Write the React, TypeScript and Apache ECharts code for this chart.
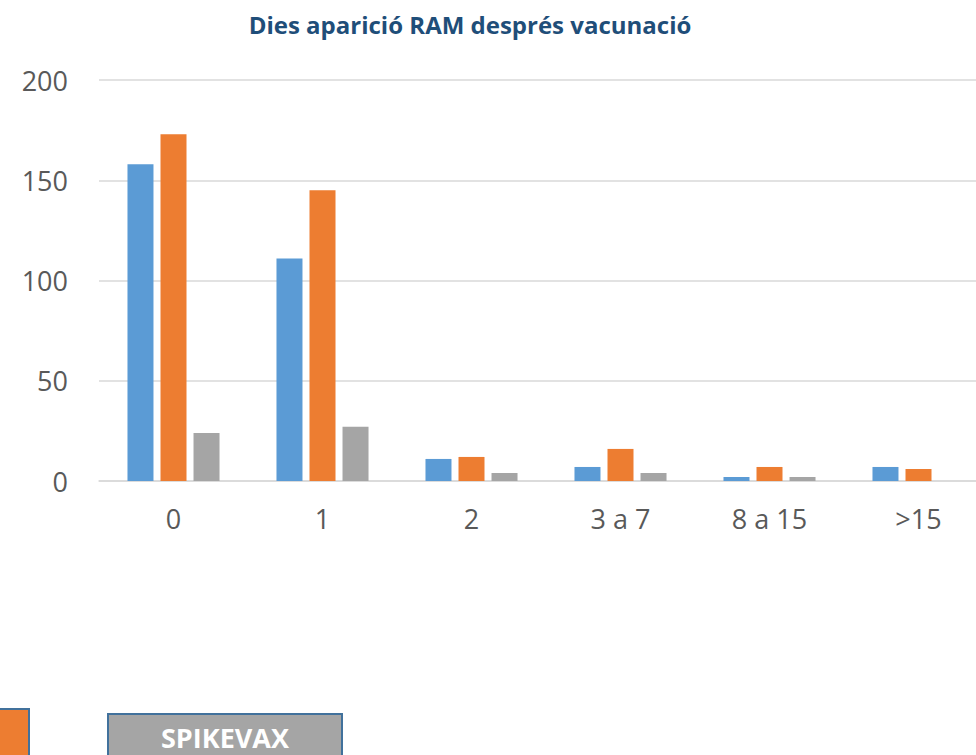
import React, { useEffect, useRef } from 'react';
import * as echarts from 'echarts';

const categories = ['0', '1', '2', '3 a 7', '8 a 15', '>15'];
const serieBlava = [158, 111, 11, 7, 2, 7];
const serieTaronja = [173, 145, 12, 16, 7, 6];
const serieGrisa = [24, 27, 4, 4, 2, null];
const titol = 'Dies aparició RAM després vacunació';
const etiquetaLlegenda = 'SPIKEVAX';

const FONT = '"Open Sans", "Noto Sans", sans-serif';

export default function App() {
  const ref = useRef<HTMLDivElement>(null);
  useEffect(() => {
    if (!ref.current) return;
    const chart = echarts.init(ref.current, null, { renderer: 'svg' });
    const bar = (name: string, data: (number | null)[], color: string) => ({
      name,
      type: 'bar',
      data,
      barWidth: 26,
      barGap: '27%',
      itemStyle: { color },
      emphasis: { disabled: true },
    });
    chart.setOption({
      animation: false,
      backgroundColor: '#ffffff',
      textStyle: { fontFamily: FONT },
      grid: { left: 99, top: 80, width: 894, height: 401, containLabel: false },
      xAxis: {
        type: 'category',
        data: categories,
        axisLine: { show: true, lineStyle: { color: '#D9D9D9', width: 1.5 } },
        axisTick: { show: false },
        axisLabel: { fontSize: 27, color: '#595959', margin: 24, fontFamily: FONT },
      },
      yAxis: {
        type: 'value',
        min: 0,
        max: 200,
        interval: 50,
        axisLine: { show: false },
        axisTick: { show: false },
        splitLine: { lineStyle: { color: '#D9D9D9', width: 1.5 } },
        axisLabel: { fontSize: 27, color: '#595959', margin: 31, fontFamily: FONT },
      },
      series: [
        bar('Sèrie 1', serieBlava, '#5B9BD5'),
        bar('Sèrie 2', serieTaronja, '#ED7D31'),
        bar(etiquetaLlegenda, serieGrisa, '#A5A5A5'),
      ],
      graphic: [
        {
          type: 'text',
          x: 470,
          y: 24,
          style: {
            text: titol,
            font: `bold 24px ${FONT}`,
            fill: '#1F4E79',
            align: 'center',
            verticalAlign: 'middle',
          },
        },
        {
          type: 'rect',
          shape: { x: -4, y: 709, width: 33, height: 60 },
          style: { fill: '#ED7D31', stroke: '#41719C', lineWidth: 2 },
        },
        {
          type: 'rect',
          shape: { x: 108, y: 714, width: 234, height: 60 },
          style: { fill: '#A5A5A5', stroke: '#41719C', lineWidth: 2 },
        },
        {
          type: 'text',
          x: 225,
          y: 737,
          style: {
            text: etiquetaLlegenda,
            font: `bold 27px ${FONT}`,
            fill: '#ffffff',
            align: 'center',
            verticalAlign: 'middle',
          },
        },
      ],
    });
    return () => chart.dispose();
  }, []);
  return (
    <div
      style={{
        position: 'fixed',
        left: 0,
        top: 0,
        width: 976,
        height: 755,
        overflow: 'hidden',
        background: '#ffffff',
      }}
    >
      <div ref={ref} style={{ width: 1010, height: 755 }} />
    </div>
  );
}
